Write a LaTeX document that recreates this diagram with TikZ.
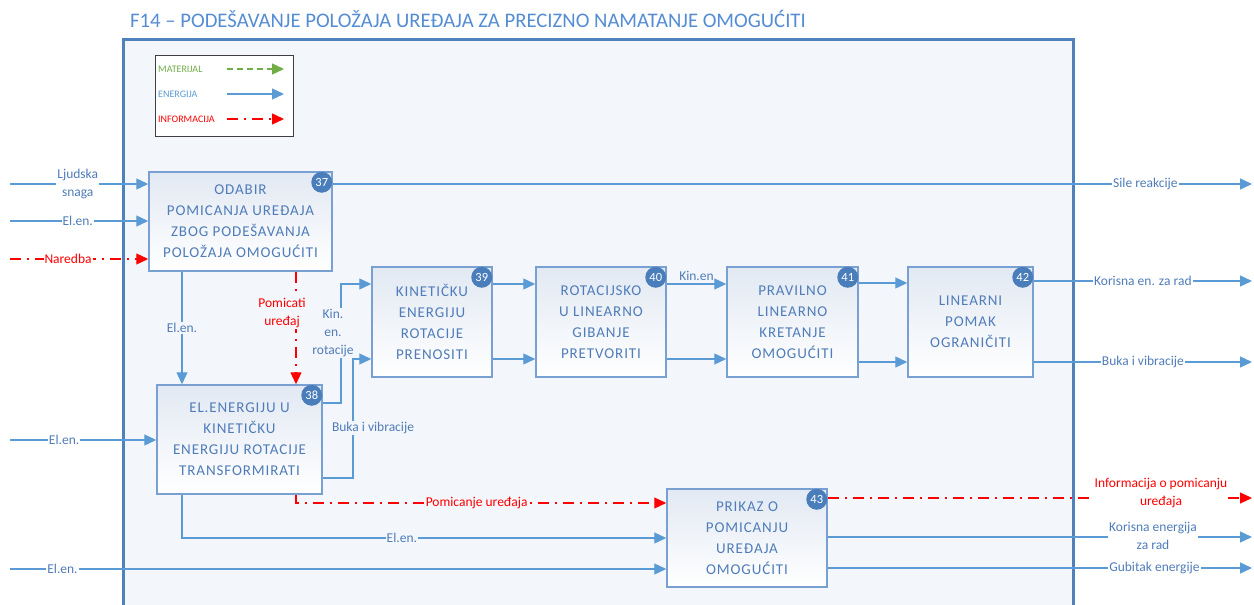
\documentclass[tikz,border=0pt]{standalone}
\usepackage{fontspec}
\setmainfont{Carlito}
\newfontfamily\boxfont[LetterSpace=6]{Carlito}
\usetikzlibrary{arrows.meta,calc}
\definecolor{frameblue}{RGB}{79,129,189}
\definecolor{lineblue}{RGB}{91,155,213}
\definecolor{boxborder}{RGB}{120,160,210}
\definecolor{boxtext}{RGB}{80,125,185}
\definecolor{badgeblue}{RGB}{74,126,187}
\definecolor{titleblue}{RGB}{84,141,212}
\definecolor{bgfill}{RGB}{243,246,250}
\definecolor{boxtop}{RGB}{226,233,243}
\definecolor{legendgreen}{RGB}{112,173,71}
\definecolor{infored}{RGB}{255,0,0}
\begin{document}
\begin{tikzpicture}[x=1pt,y=-1pt,
  en/.style={draw=lineblue,line width=1.3pt,color=lineblue,-{Triangle[length=12pt,width=11pt]}},
  info/.style={draw=infored,color=infored,line width=1.3pt,dash pattern=on 11pt off 6pt on 2pt off 6pt,-{Triangle[length=12pt,width=11pt]}},
  mat/.style={draw=legendgreen,color=legendgreen,line width=1.3pt,dash pattern=on 6pt off 4pt,-{Triangle[length=12pt,width=11pt]}},
  fbox/.style={draw=boxborder,line width=1.5pt,top color=boxtop,bottom color=white,text=boxtext,
    font=\boxfont\fontsize{15}{21}\selectfont,align=center,inner sep=2pt},
  badge/.style={circle,fill=badgeblue,text=white,minimum size=21pt,inner sep=0pt,font=\fontsize{12.5}{12}\selectfont},
  lab/.style={font=\fontsize{13.5}{18}\selectfont,text=boxtext,fill=bgfill,inner sep=1pt,align=center},
  olab/.style={lab,fill=white},
  rlab/.style={lab,text=infored},
  orlab/.style={olab,text=infored},
  leg/.style={anchor=west,font=\fontsize{10}{10}\selectfont,inner sep=0pt},
]
\useasboundingbox (0,0) rectangle (1254,605);
\clip (0,0) rectangle (1254,605);
\fill[white] (0,0) rectangle (1254,605);

% frame
\fill[bgfill] (123,39) rectangle (1073,620);
\draw[frameblue,line width=3pt] (123,620) -- (123,39) -- (1073,39) -- (1073,620);

% title
\node[anchor=west,text=titleblue,font=\fontsize{20.7}{21}\selectfont,inner sep=0pt] (title) at (130,19)
  {F14 – PODEŠAVANJE POLOŽAJA UREĐAJA ZA PRECIZNO NAMATANJE OMOGUĆITI};

% legend
\node[draw=black!75,fill=white,line width=0.8pt,minimum width=138pt,minimum height=81pt,anchor=north west] (legend) at (155,55) {};
\node[leg,text=legendgreen] (lmat) at (158,69) {MATERIJAL};
\node[leg,text=lineblue] (lene) at (158,94) {ENERGIJA};
\node[leg,text=infored] (linf) at (158,119) {INFORMACIJA};
\coordinate (lm1) at (227,69); \coordinate (lm2) at (284,69);
\coordinate (le1) at (227,94); \coordinate (le2) at (284,94);
\coordinate (li1) at (227,119); \coordinate (li2) at (284,119);
\draw[mat] (lm1) -- (lm2);
\draw[en] (le1) -- (le2);
\draw[info] (li1) -- (li2);

% boxes
\node[fbox,minimum width=183pt,minimum height=99pt] (b37) at (240.5,221.5)
  {ODABIR\\POMICANJA UREĐAJA\\ZBOG PODEŠAVANJA\\POLOŽAJA OMOGUĆITI};
\node[fbox,minimum width=165pt,minimum height=109pt] (b38) at (239.5,439.5)
  {EL.ENERGIJU U\\KINETIČKU\\ENERGIJU ROTACIJE\\TRANSFORMIRATI};
\node[fbox,minimum width=120pt,minimum height=110pt] (b39) at (432,322)
  {KINETIČKU\\ENERGIJU\\ROTACIJE\\PRENOSITI};
\node[fbox,minimum width=130pt,minimum height=110pt] (b40) at (601,322)
  {ROTACIJSKO\\U LINEARNO\\GIBANJE\\PRETVORITI};
\node[fbox,minimum width=131pt,minimum height=110pt] (b41) at (792.5,322)
  {PRAVILNO\\LINEARNO\\KRETANJE\\OMOGUĆITI};
\node[fbox,minimum width=125pt,minimum height=110pt] (b42) at (970.5,322)
  {LINEARNI\\POMAK\\OGRANIČITI};
\node[fbox,minimum width=160pt,minimum height=98pt] (b43) at (747,538)
  {PRIKAZ O\\POMICANJU\\UREĐAJA\\OMOGUĆITI};

% badges
\foreach \b/\n in {b37/37,b38/38,b39/39,b40/40,b41/41,b42/42,b43/43}
  \node[badge] (n\n) at ($(\b.north east)+(-11,11)$) {\n};

% helper coordinates
\coordinate (xa) at (182,0);
\coordinate (xb) at (296,0);
\coordinate (xc) at (341,0);
\coordinate (xd) at (353,0);
\coordinate (yA) at (0,284);
\coordinate (yB) at (0,359);
\coordinate (yA2) at (0,283);
\coordinate (yB2) at (0,362);
\coordinate (yR) at (0,503);
\coordinate (yE) at (0,538);

% inputs
\coordinate (inLj) at (10,184);
\coordinate (inEl1) at (10,221);
\coordinate (inNar) at (10,259);
\coordinate (inEl2) at (10,440);
\coordinate (inEl3) at (10,569);
\draw[en] (inLj) -- (inLj -| b37.west) node[olab,pos=0.49] {Ljudska\\snaga};
\draw[en] (inEl1) -- (inEl1 -| b37.west) node[olab,pos=0.49] {El.en.};
\draw[info] (inNar) -- (inNar -| b37.west) node[orlab,pos=0.42] {Naredba};
\draw[en] (inEl2) -- (inEl2 -| b38.west) node[olab,pos=0.37] {El.en.};
\draw[en] (inEl3) -- (inEl3 -| b43.west) node[olab,pos=0.08] {El.en.};

% outputs
\coordinate (outSile) at (1252,184);
\coordinate (outKor) at (1252,281);
\coordinate (outBuka) at (1252,362);
\coordinate (outInf) at (1252,498);
\coordinate (outKor2) at (1252,537);
\coordinate (outGub) at (1252,568);
\draw[en] (outSile -| b37.east) -- (outSile) node[olab,pos=0.884] {Sile reakcije};
\draw[en] (outKor -| b42.east) -- (outKor) node[olab,pos=0.5] {Korisna en. za rad};
\draw[en] (outBuka -| b42.east) -- (outBuka) node[olab,pos=0.5] {Buka i vibracije};
\draw[info] (outInf -| b43.east) -- (outInf);
\node[orlab] (linf2) at (1161,493) {Informacija o pomicanju\\uređaja};
\draw[en] (outKor2 -| b43.east) -- (outKor2);
\node[olab] (lkor2) at (1153,536) {Korisna energija\\za rad};
\draw[en] (outGub -| b43.east) -- (outGub) node[olab,pos=0.77] {Gubitak energije};

% 37 -> 38
\draw[en] (b37.south -| xa) -- (b38.north -| xa) node[lab,midway] {El.en.};
\draw[info] (b37.south -| xb) -- (b38.north -| xb);
\node[rlab] (lpom) at (282,313) {Pomicati\\uređaj};

% 38 -> 39
\draw[en] ([yshift=36.5pt]b38.east) -| (xc |- yA) -- (yA -| b39.west);
\node[lab] (lkin) at (333,333) {Kin.\\en.\\rotacije};
\draw[en] ([yshift=-38.5pt]b38.east) -| (xd |- yB) -- (yB -| b39.west);
\node[lab] (lbuka) at (373,428) {Buka i vibracije};

% chain
\draw[en] (yA -| b39.east) -- (yA -| b40.west);
\draw[en] (yB -| b39.east) -- (yB -| b40.west);
\draw[en] (yA -| b40.east) -- (yA -| b41.west) node[midway,above=3pt,font=\fontsize{13.5}{13.5}\selectfont,text=boxtext,inner sep=0pt] {Kin.en};
\draw[en] (yB -| b40.east) -- (yB -| b41.west);
\draw[en] (yA2 -| b41.east) -- (yA2 -| b42.west);
\draw[en] (yB2 -| b41.east) -- (yB2 -| b42.west);

% 38 -> 43
\draw[info] (b38.south -| xb) |- (yR -| b43.west) node[rlab,pos=0.744] {Pomicanje uređaja};
\draw[en] (b38.south -| xa) |- (yE -| b43.west) node[lab,pos=0.727] {El.en.};
\end{tikzpicture}
\end{document}
